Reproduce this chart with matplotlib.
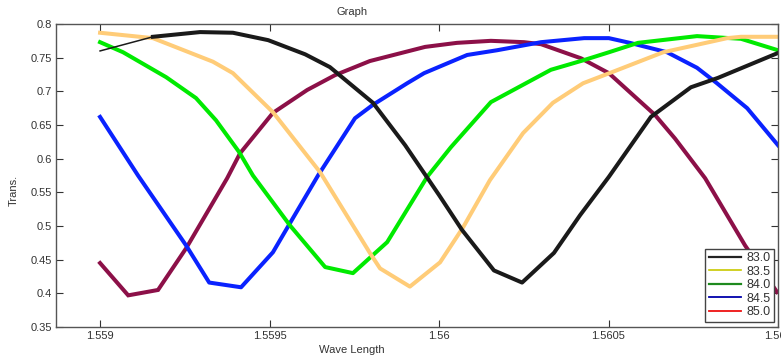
import matplotlib
matplotlib.use("Agg")
import matplotlib.pyplot as plt
from matplotlib.lines import Line2D

plt.rcParams['font.family'] = ['Liberation Sans', 'DejaVu Sans']

# values (wavelength, transmission)
wl_830 = [1.55900, 1.559156, 1.559295, 1.559392, 1.559496, 1.559605, 1.559678, 1.559805,
          1.559900, 1.560000, 1.560068, 1.560162, 1.560245, 1.560339, 1.560416, 1.560501,
          1.560625, 1.560743, 1.560823, 1.561000]
tr_830 = [0.760, 0.781, 0.788, 0.787, 0.776, 0.755, 0.736, 0.683,
          0.620, 0.546, 0.494, 0.434, 0.416, 0.460, 0.516, 0.573,
          0.662, 0.706, 0.720, 0.757]

wl_835 = [1.55900, 1.559156, 1.559333, 1.559392, 1.559510, 1.559649, 1.559796, 1.559826,
          1.559914, 1.560003, 1.560071, 1.560150, 1.560248, 1.560336, 1.560425, 1.560513,
          1.560661, 1.560850, 1.560891, 1.561000]
tr_835 = [0.787, 0.779, 0.744, 0.727, 0.669, 0.580, 0.460, 0.437,
          0.410, 0.446, 0.498, 0.568, 0.638, 0.683, 0.712, 0.729,
          0.758, 0.779, 0.781, 0.781]

wl_840 = [1.55900, 1.559068, 1.559195, 1.559283, 1.559342, 1.559410, 1.559451, 1.559560,
          1.559664, 1.559746, 1.559847, 1.559965, 1.560035, 1.560153, 1.560330, 1.560425,
          1.560501, 1.560587, 1.560761, 1.560891, 1.561000]
tr_840 = [0.773, 0.758, 0.721, 0.690, 0.657, 0.610, 0.575, 0.501,
          0.439, 0.430, 0.476, 0.573, 0.617, 0.684, 0.732, 0.746,
          0.758, 0.772, 0.782, 0.778, 0.761]

wl_845 = [1.55900, 1.559112, 1.559254, 1.559322, 1.559416, 1.559510, 1.559560, 1.559643,
          1.559752, 1.559805, 1.559906, 1.559956, 1.560083, 1.560171, 1.560301, 1.560428,
          1.560501, 1.560563, 1.560673, 1.560761, 1.560820, 1.560909, 1.561000]
tr_845 = [0.662, 0.575, 0.471, 0.416, 0.409, 0.461, 0.504, 0.575,
          0.660, 0.680, 0.712, 0.727, 0.754, 0.761, 0.773, 0.779,
          0.779, 0.772, 0.758, 0.735, 0.712, 0.675, 0.620]

wl_850 = [1.55900, 1.559083, 1.559171, 1.559254, 1.559375, 1.559413, 1.559510, 1.559611,
          1.559693, 1.559796, 1.559959, 1.560053, 1.560153, 1.560251, 1.560301, 1.560419,
          1.560501, 1.560637, 1.560696, 1.560785, 1.560903, 1.560997]
tr_850 = [0.445, 0.397, 0.405, 0.467, 0.571, 0.608, 0.668, 0.702,
          0.724, 0.745, 0.766, 0.772, 0.775, 0.773, 0.770, 0.749,
          0.727, 0.665, 0.630, 0.571, 0.471, 0.402]

legend_labels = ['83.0', '83.5', '84.0', '84.5', '85.0']

fig = plt.figure(figsize=(7.81, 3.58), dpi=100)
ax = fig.add_axes([56 / 781, 1 - 327 / 358, 722 / 781, 303 / 358])

lw = 2.9
ax.plot(wl_850, tr_850, color='#8c1048', lw=lw, solid_joinstyle='miter')
ax.plot(wl_845, tr_845, color='#0a22ff', lw=lw)
ax.plot(wl_840, tr_840, color='#00ea00', lw=lw)
ax.plot(wl_835, tr_835, color='#ffcc78', lw=lw)
# first black segment is drawn thin in the original
ax.plot(wl_830[:2], tr_830[:2], color='#1a1a1a', lw=1.1)
ax.plot(wl_830[1:], tr_830[1:], color='#1a1a1a', lw=lw)

ax.set_xlim(1.55887, 1.561)
ax.set_ylim(0.35, 0.8)
ax.set_xticks([1.559, 1.5595, 1.56, 1.5605, 1.561])
ax.set_xticklabels(['1.559', '1.5595', '1.56', '1.5605', '1.561'])
ax.set_yticks([0.35, 0.4, 0.45, 0.5, 0.55, 0.6, 0.65, 0.7, 0.75, 0.8])
ax.set_yticklabels(['0.35', '0.4', '0.45', '0.5', '0.55', '0.6', '0.65', '0.7', '0.75', '0.8'])
ax.tick_params(direction='in', length=5, width=0.8, top=True, right=True,
               labelsize=8, labelcolor='#333333', color='#333333', pad=3)
for s in ax.spines.values():
    s.set_color('#555555')
    s.set_linewidth(1.0)

# legend colours differ from the drawn lines in the original
handles = [Line2D([], [], color='#222222', lw=1.6),
           Line2D([], [], color='#c8c800', lw=1.2),
           Line2D([], [], color='#1e8a1e', lw=1.6),
           Line2D([], [], color='#0000aa', lw=1.3),
           Line2D([], [], color='#ee1111', lw=1.3)]
leg = ax.legend(handles, legend_labels, loc='lower right', bbox_to_anchor=(0.9945, 0.0165),
                borderaxespad=0, fontsize=9, handlelength=2.6, handletextpad=0.4,
                labelspacing=0.12, borderpad=0.3, fancybox=False, framealpha=1)
leg.get_frame().set_edgecolor('#444444')
leg.get_frame().set_linewidth(1.0)
for t in leg.get_texts():
    t.set_color('#333333')

fig.text(352 / 781, 1 - 12 / 358, 'Graph', ha='center', va='center', fontsize=8, color='#333333')
fig.text(352 / 781, 1 - 350 / 358, 'Wave Length', ha='center', va='center', fontsize=8, color='#333333')
fig.text(14 / 781, 1 - 190 / 358, 'Trans.', ha='center', va='center', rotation=90, fontsize=8, color='#333333')

fig.savefig('out.png', dpi=100)
